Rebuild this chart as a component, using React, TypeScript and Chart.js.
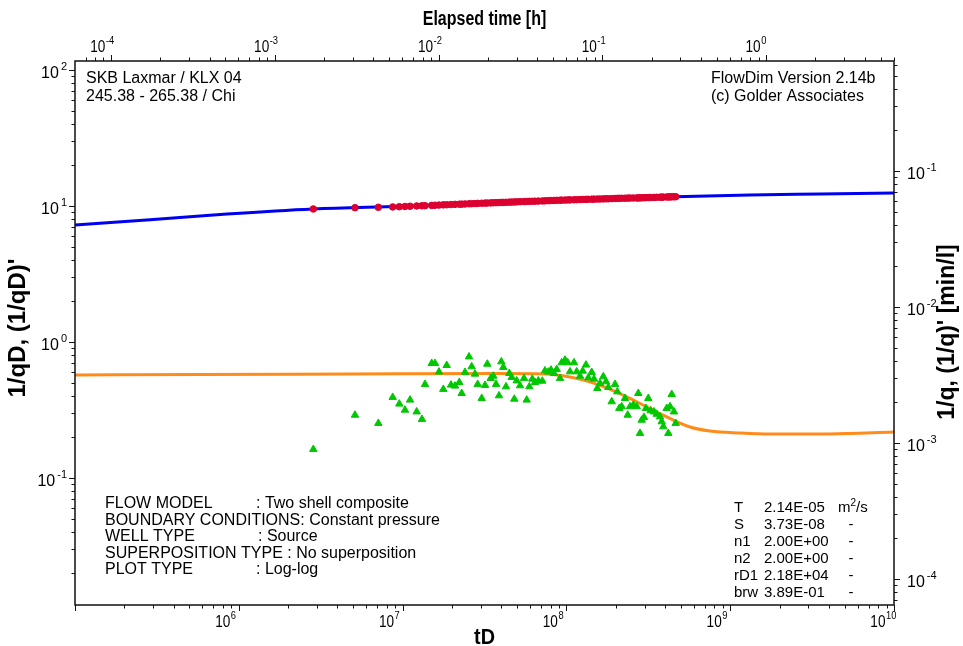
import React, { useEffect, useRef } from "react";
import { Chart, registerables } from "chart.js";

Chart.register(...registerables);

// ---------------- data ----------------
// dimensionless time of the measured points
const tD = [
  2.85e6, 5.12e6, 7.11e6, 8.7e6, 9.55e6, 1.034e7, 1.11e7, 1.219e7, 1.313e7, 1.37e7,
  1.506e7, 1.577e7, 1.668e7, 1.772e7, 1.859e7, 1.975e7, 2.089e7, 2.219e7, 2.295e7, 2.404e7,
  2.543e7, 2.641e7, 2.767e7, 2.874e7, 3.04e7, 3.185e7, 3.29e7, 3.451e7, 3.579e7, 3.718e7,
  3.878e7, 4.006e7, 4.12e7, 4.279e7, 4.482e7, 4.636e7, 4.808e7, 4.974e7, 5.21e7, 5.511e7,
  5.724e7, 5.937e7, 6.193e7, 6.432e7, 6.737e7, 7.127e7, 7.403e7, 7.754e7, 8.054e7, 8.401e7,
  8.726e7, 9.141e7, 9.36e7, 9.806e7, 1.018e8, 1.052e8, 1.113e8, 1.156e8, 1.211e8, 1.258e8,
  1.317e8, 1.36e8, 1.427e8, 1.474e8, 1.544e8, 1.604e8, 1.68e8, 1.745e8, 1.803e8, 1.891e8,
  1.981e8, 2.046e8, 2.104e8, 2.176e8, 2.279e8, 2.367e8, 2.445e8, 2.561e8, 2.687e8, 2.748e8,
  2.814e8, 2.882e8, 2.977e8, 3.062e8, 3.162e8, 3.271e8, 3.426e8, 3.559e8, 3.728e8, 3.818e8,
  3.905e8, 4.096e8, 4.19e8, 4.291e8, 4.395e8, 4.539e8, 4.649e8,
];

// measured 1/qD (red dots)
const invFlow = [
  9.51, 9.72, 9.78, 9.84, 9.88, 9.92, 9.96, 10.01, 10.04, 10.05,
  10.1, 10.13, 10.16, 10.2, 10.22, 10.25, 10.28, 10.31, 10.32, 10.35,
  10.38, 10.4, 10.42, 10.45, 10.48, 10.5, 10.52, 10.54, 10.57, 10.58,
  10.6, 10.62, 10.63, 10.65, 10.67, 10.69, 10.71, 10.73, 10.76, 10.78,
  10.8, 10.82, 10.83, 10.85, 10.87, 10.89, 10.91, 10.95, 10.97, 10.99,
  11.01, 11.03, 11.04, 11.06, 11.08, 11.09, 11.11, 11.13, 11.15, 11.17,
  11.19, 11.2, 11.22, 11.23, 11.25, 11.26, 11.28, 11.3, 11.31, 11.33,
  11.36, 11.37, 11.39, 11.4, 11.41, 11.43, 11.44, 11.45, 11.46, 11.47,
  11.48, 11.49, 11.5, 11.53, 11.54, 11.55, 11.57, 11.59, 11.61, 11.62,
  11.63, 11.65, 11.66, 11.67, 11.68, 11.69, 11.7,
];

// measured derivative (1/qD)' (green triangles)
const invFlowDeriv = [
  0.1626, 0.2903, 0.2526, 0.3925, 0.3503, 0.3162, 0.3749, 0.3068, 0.2703, 0.489,
  0.6967, 0.6967, 0.6025, 0.4495, 0.6737, 0.4832, 0.4751, 0.5051, 0.4193, 0.599,
  0.7792, 0.6588, 0.5817, 0.489, 0.3855, 0.4809, 0.6886, 0.5413, 0.5621, 0.489,
  0.4029, 0.7162, 0.6519, 0.4693, 0.5886, 0.5505, 0.3808, 0.519, 0.4775, 0.5413,
  0.3749, 0.4693, 0.5343, 0.5051, 0.519, 0.5167, 0.6151, 0.6025, 0.6232, 0.5886,
  0.6301, 0.5413, 0.7047, 0.7368, 0.7047, 0.6047, 0.7047, 0.6047, 0.5621, 0.6117,
  0.6783, 0.5459, 0.599, 0.5343, 0.4565, 0.497, 0.5563, 0.5109, 0.4646, 0.3643,
  0.489, 0.431, 0.3256, 0.335, 0.3855, 0.2903, 0.335, 0.3444, 0.335, 0.4193,
  0.2133, 0.2667, 0.2797, 0.3256, 0.3855, 0.3127, 0.3068, 0.295, 0.2821, 0.2597,
  0.2383, 0.3256, 0.2133, 0.335, 0.4122, 0.3068, 0.2526,
];

// model curves
const modelTime = [1e5, 2.87e5, 8.47e5, 2.84e6, 9.64e6, 3.93e7, 1.6e8, 4.6e8, 1.32e9, 3.53e9, 1e10];
const modelInvFlow = [7.25, 7.91, 8.73, 9.51, 9.95, 10.56, 11.2, 11.7, 12.04, 12.24, 12.46];
const modelDerivTime = [1e5, 5.8e5, 4.78e6, 3.93e7, 7.4e7, 1.05e8, 1.39e8, 2.22e8, 3.57e8, 5.69e8, 7.53e8, 1.15e9, 1.75e9, 4.06e9, 1e10];
const modelDeriv = [0.5725, 0.5771, 0.5817, 0.5864, 0.5817, 0.5528, 0.5086, 0.4075, 0.3056, 0.2371, 0.2216, 0.2145, 0.211, 0.211, 0.2181];

// axis ranges
const tDRange = [1e5, 1e10];
const hourRange = [Math.pow(10, -4.2194), Math.pow(10, 0.7806)];
const leftRange = [Math.pow(10, -1.9338), Math.pow(10, 2.0662)];
const rightRange = [Math.pow(10, -4.1912), Math.pow(10, -0.1912)];

// tick labels (powers of ten)
const bottomTickExps = [6, 7, 8, 9, 10];
const topTickExps = [-4, -3, -2, -1, 0];
const leftTickExps = [-1, 0, 1, 2];
const rightTickExps = [-4, -3, -2, -1];

// texts
const headerLeft = ["SKB Laxmar / KLX 04", "245.38 - 265.38 / Chi"];
const headerRight = ["FlowDim Version 2.14b", "(c) Golder Associates"];
const modelLabels = ["FLOW MODEL", "BOUNDARY CONDITIONS", "WELL TYPE", "SUPERPOSITION TYPE ", "PLOT TYPE"];
const modelValues = [": Two shell composite", ": Constant pressure", ": Source", ": No superposition", ": Log-log"];
const paramNames = ["T", "S", "n1", "n2", "rD1", "brw"];
const paramValues = ["2.14E-05", "3.73E-08", "2.00E+00", "2.00E+00", "2.18E+04", "3.89E-01"];
const paramUnits = ["m2/s", "-", "-", "-", "-", "-"];

const FAM = "'Liberation Sans', Arial, Helvetica, sans-serif";

function drawScaled(ctx: CanvasRenderingContext2D, t: string, x: number, y: number, font: string, sx: number) {
  ctx.save();
  ctx.font = font;
  ctx.textAlign = "left";
  ctx.textBaseline = "alphabetic";
  ctx.translate(x, y);
  ctx.scale(sx, 1);
  ctx.fillText(t, 0, 0);
  ctx.restore();
}
function widthScaled(ctx: CanvasRenderingContext2D, t: string, font: string, sx: number) {
  ctx.save();
  ctx.font = font;
  const w = ctx.measureText(t).width * sx;
  ctx.restore();
  return w;
}

const overlayPlugin = {
  id: "overlay",
  afterDraw(chart: any) {
    const ctx: CanvasRenderingContext2D = chart.ctx;
    const { left, right, top, bottom } = chart.chartArea;
    const sx = chart.scales.x;
    const sx2 = chart.scales.x2;
    const sy = chart.scales.y;
    const sy2 = chart.scales.y2;
    ctx.save();
    ctx.fillStyle = "#000";
    ctx.strokeStyle = "#111";
    ctx.lineWidth = 1.5;
    ctx.strokeRect(left, top, right - left, bottom - top);

    const drawTicks = (scale: any, horizontal: boolean, base: number, dir: number) => {
      const lo = Math.floor(Math.log10(scale.min));
      const hi = Math.ceil(Math.log10(scale.max));
      ctx.lineWidth = 1;
      for (let p = lo; p <= hi; p++) {
        for (let m = 1; m <= 9; m++) {
          const v = m * Math.pow(10, p);
          if (v < scale.min * 0.9999 || v > scale.max * 1.0001) continue;
          const pix = Math.round(scale.getPixelForValue(v)) + 0.5;
          const len = m === 1 ? 6 : 3.5;
          ctx.beginPath();
          if (horizontal) {
            ctx.moveTo(pix, base);
            ctx.lineTo(pix, base + dir * len);
          } else {
            ctx.moveTo(base, pix);
            ctx.lineTo(base + dir * len, pix);
          }
          ctx.stroke();
        }
      }
    };
    drawTicks(sx, true, bottom, 1);
    drawTicks(sx2, true, top, -1);
    drawTicks(sy, false, left, -1);
    drawTicks(sy2, false, right, 1);

    // tick labels
    const hBase = `16px ${FAM}`;
    const hSup = `11px ${FAM}`;
    const nar = 0.85;
    const drawHLabel = (scale: any, e: number, baseY: number, supY: number, shift: number) => {
      const X = scale.getPixelForValue(Math.pow(10, e)) + shift;
      const bw = widthScaled(ctx, "10", hBase, nar);
      drawScaled(ctx, "10", X - 5.5 - bw, baseY, hBase, nar);
      drawScaled(ctx, String(e), X - 5, supY, hSup, nar);
    };
    bottomTickExps.forEach((e) => drawHLabel(sx, e, 627, 619, -3));
    topTickExps.forEach((e) => drawHLabel(sx2, e, 52, 44, 0));

    const vBase = `16px ${FAM}`;
    const vSup = `11px ${FAM}`;
    leftTickExps.forEach((e) => {
      const Y = sy.getPixelForValue(Math.pow(10, e));
      const s = String(e);
      const sw = widthScaled(ctx, s, vSup, 1);
      const bw = widthScaled(ctx, "10", vBase, 1);
      const supLeft = 67 - sw;
      drawScaled(ctx, s, supLeft, Y, vSup, 1);
      drawScaled(ctx, "10", supLeft - 2 - bw, Y + 8, vBase, 1);
    });
    rightTickExps.forEach((e) => {
      const Y = sy2.getPixelForValue(Math.pow(10, e));
      const bw = widthScaled(ctx, "10", vBase, 1);
      drawScaled(ctx, "10", 907, Y + 8, vBase, 1);
      drawScaled(ctx, String(e), 907 + bw + 2, Y, vSup, 1);
    });

    // axis titles
    const midX = (left + right) / 2;
    const tFont = `bold 20px ${FAM}`;
    let w = widthScaled(ctx, "Elapsed time [h]", tFont, 0.8);
    drawScaled(ctx, "Elapsed time [h]", midX - w / 2, 25, tFont, 0.8);
    const dFont = `bold 22px ${FAM}`;
    w = widthScaled(ctx, "tD", dFont, 0.9);
    drawScaled(ctx, "tD", midX - w / 2, 644, dFont, 0.9);

    const midY = (top + bottom) / 2;
    ctx.save();
    ctx.font = `bold 24px ${FAM}`;
    ctx.textAlign = "center";
    ctx.textBaseline = "middle";
    ctx.translate(18, midY - 5);
    ctx.rotate(-Math.PI / 2);
    ctx.fillText("1/qD, (1/qD)'", 0, 0);
    ctx.restore();
    ctx.save();
    ctx.font = `bold 23px ${FAM}`;
    ctx.textAlign = "center";
    ctx.textBaseline = "middle";
    ctx.translate(948, midY - 1);
    ctx.rotate(-Math.PI / 2);
    ctx.fillText("1/q, (1/q)' [min/l]", 0, 0);
    ctx.restore();

    // annotation texts
    const aFont = `16px ${FAM}`;
    drawScaled(ctx, headerLeft[0], 86, 83, aFont, 1);
    drawScaled(ctx, headerLeft[1], 86, 101, aFont, 1);
    drawScaled(ctx, headerRight[0], 711, 83, aFont, 1);
    drawScaled(ctx, headerRight[1], 711, 101, aFont, 1);

    const bFont = `16px ${FAM}`;
    const colonX = [256, 0, 258, 0, 256];
    modelLabels.forEach((lab, i) => {
      const y = 508 + i * 16.5;
      drawScaled(ctx, lab, 105, y, bFont, 1);
      const lw = widthScaled(ctx, lab, bFont, 1);
      const cx = colonX[i] > 0 ? colonX[i] : 105 + lw;
      drawScaled(ctx, modelValues[i], cx, y, bFont, 1);
    });

    const pFont = `15px ${FAM}`;
    paramNames.forEach((n, i) => {
      const y = 512 + i * 17;
      drawScaled(ctx, n, 734, y, pFont, 1);
      drawScaled(ctx, paramValues[i], 764, y, pFont, 1);
      const u = paramUnits[i];
      if (u === "m2/s") {
        const ux = 838;
        drawScaled(ctx, "m", ux, y, pFont, 1);
        const mw = widthScaled(ctx, "m", pFont, 1);
        drawScaled(ctx, "2", ux + mw, y - 6, `10px ${FAM}`, 1);
        const tw = widthScaled(ctx, "2", `10px ${FAM}`, 1);
        drawScaled(ctx, "/s", ux + mw + tw, y, pFont, 1);
      } else {
        const dw = widthScaled(ctx, u, pFont, 1);
        drawScaled(ctx, u, 851 - dw / 2, y, pFont, 1);
      }
    });
    ctx.restore();
  },
};

export default function App() {
  const ref = useRef<HTMLCanvasElement | null>(null);
  useEffect(() => {
    document.body.style.margin = "0";
    const canvas = ref.current;
    if (!canvas) return;
    const chart = new Chart(canvas, {
      type: "scatter",
      data: {
        datasets: [
          {
            label: "1/qD",
            data: tD.map((t, i) => ({ x: t, y: invFlow[i] })),
            backgroundColor: "#DC0030",
            borderColor: "#DC0030",
            borderWidth: 1,
            pointRadius: 3.3,
            pointStyle: "circle",
            xAxisID: "x",
            yAxisID: "y",
            order: 0,
          },
          {
            label: "(1/qD)'",
            data: tD.map((t, i) => ({ x: t, y: invFlowDeriv[i] })),
            backgroundColor: "#00C800",
            borderColor: "#00C800",
            borderWidth: 1,
            pointRadius: 4.3,
            pointStyle: "triangle",
            xAxisID: "x",
            yAxisID: "y",
            order: 0,
          },
          {
            label: "model 1/qD",
            data: modelTime.map((t, i) => ({ x: t, y: modelInvFlow[i] })),
            showLine: true,
            borderColor: "#0000F0",
            borderWidth: 3,
            pointRadius: 0,
            cubicInterpolationMode: "monotone",
            xAxisID: "x",
            yAxisID: "y",
            order: 1,
          },
          {
            label: "model (1/qD)'",
            data: modelDerivTime.map((t, i) => ({ x: t, y: modelDeriv[i] })),
            showLine: true,
            borderColor: "#FF8C1A",
            borderWidth: 3,
            pointRadius: 0,
            cubicInterpolationMode: "monotone",
            xAxisID: "x",
            yAxisID: "y",
            order: 1,
          },
        ],
      },
      options: {
        animation: false,
        responsive: false,
        maintainAspectRatio: false,
        devicePixelRatio: 1,
        layout: { padding: 0 },
        plugins: { legend: { display: false }, tooltip: { enabled: false }, title: { display: false } },
        scales: {
          x: {
            type: "logarithmic",
            position: "bottom",
            min: tDRange[0],
            max: tDRange[1],
            ticks: { display: false },
            grid: { display: false },
            border: { display: false },
            afterFit: (s: any) => { s.height = 41; },
          },
          x2: {
            type: "logarithmic",
            position: "top",
            min: hourRange[0],
            max: hourRange[1],
            ticks: { display: false },
            grid: { display: false },
            border: { display: false },
            afterFit: (s: any) => { s.height = 61; },
          },
          y: {
            type: "logarithmic",
            position: "left",
            min: leftRange[0],
            max: leftRange[1],
            ticks: { display: false },
            grid: { display: false },
            border: { display: false },
            afterFit: (s: any) => { s.width = 75; },
          },
          y2: {
            type: "logarithmic",
            position: "right",
            min: rightRange[0],
            max: rightRange[1],
            ticks: { display: false },
            grid: { display: false },
            border: { display: false },
            afterFit: (s: any) => { s.width = 69; },
          },
        },
      } as any,
      plugins: [overlayPlugin],
    });
    return () => chart.destroy();
  }, []);
  return (
    <div style={{ position: "absolute", left: 0, top: 0, width: 963, height: 646, background: "#fff" }}>
      <canvas ref={ref} width={963} height={646} style={{ display: "block", width: 963, height: 646 }} />
    </div>
  );
}
